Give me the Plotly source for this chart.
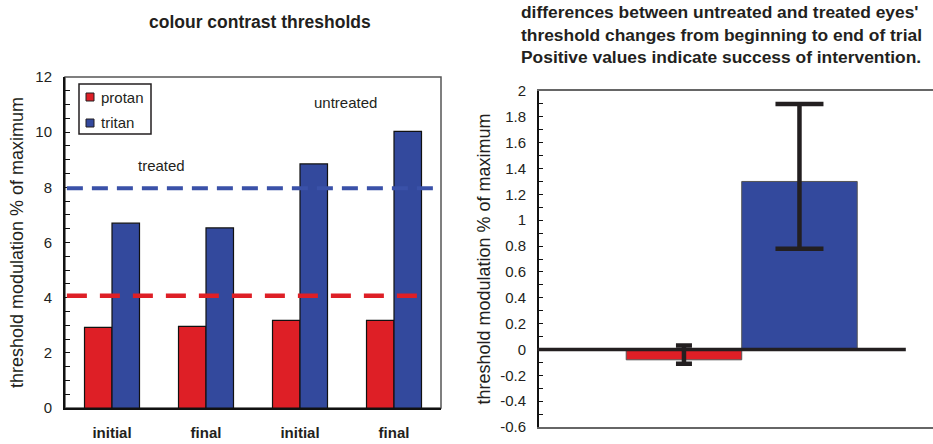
import plotly.graph_objects as go

# ---------------- data ----------------
phase_labels = ["initial", "final", "initial", "final"]
protan_thresholds = [2.92, 2.96, 3.18, 3.18]
tritan_thresholds = [6.70, 6.53, 8.85, 10.03]
series_names = ["protan", "tritan"]
criterion_levels = [4.07, 7.97]          # protan, tritan dashed criteria
group_notes = ["treated", "untreated"]

diff_values = [-0.08, 1.30]             # protan, tritan
diff_err_plus = [0.11, 0.60]
diff_err_minus = [0.03, 0.52]

left_ticks = [0, 2, 4, 6, 8, 10, 12]
right_tickvals = [-0.6, -0.4, -0.2, 0, 0.2, 0.4, 0.6, 0.8, 1, 1.2, 1.4, 1.6, 1.8, 2]
right_ticktext = ["-0.6", "-0.4", "-0.2", "0", "0.2", "0.4", "0.6", "0.8", "1", "1.2",
                  "1.4", "1.6", "1.8", "2"]

# ---------------- style ----------------
W, H = 933, 444
RED = "#DE1F26"
BLUE = "#33499D"
BLUE_DASH = "#3A51A8"
INK = "#231F20"
FONT = "Liberation Sans, Arial, Helvetica, sans-serif"


def px(x):
    return x / W


def py(y):
    return 1 - y / H


fig = go.Figure()

# left chart bars
x_idx = list(range(len(phase_labels)))
for name, vals, col in zip(series_names, [protan_thresholds, tritan_thresholds], [RED, BLUE]):
    fig.add_trace(go.Bar(
        x=x_idx, y=vals, name=name, marker=dict(color=col, line=dict(color="#111", width=1.2)),
        xaxis="x", yaxis="y", showlegend=False,
    ))

# right chart bars
err_widths = [8, 24]
for i, (name, v, ep, em, col) in enumerate(zip(series_names, diff_values, diff_err_plus,
                                               diff_err_minus, [RED, BLUE])):
    fig.add_trace(go.Bar(
        x=[i], y=[v], name=name, offset=-0.5, width=1,
        marker=dict(color=col, line=dict(color="#555", width=1)),
        error_y=dict(type="data", symmetric=False, array=[ep], arrayminus=[em],
                     color=INK, thickness=4.5, width=err_widths[i]),
        xaxis="x2", yaxis="y2", showlegend=False,
    ))

shapes = []
# left frame (top/right in grey)
shapes.append(dict(type="rect", xref="x domain", yref="y domain", x0=0, x1=1, y0=0, y1=1,
                   line=dict(color="#555", width=1.5), layer="below"))
# criterion dashed lines
for lvl, col, x1, dash, w in zip(criterion_levels, [RED, BLUE_DASH], [0.96, 0.984],
                                 ["20px,13px", "16px,9px"], [4.5, 4]):
    shapes.append(dict(type="line", xref="x domain", yref="y", x0=0.005, x1=x1, y0=lvl, y1=lvl,
                       line=dict(color=col, width=w, dash=dash), layer="above"))
# right zero line
shapes.append(dict(type="line", xref="x2 domain", yref="y2", x0=-0.005, x1=0.931, y0=0, y1=0,
                   line=dict(color=INK, width=3.5), layer="above"))

# manual legend
shapes.append(dict(type="rect", xref="paper", yref="paper", x0=px(79), x1=px(151),
                   y0=py(134), y1=py(84), line=dict(color=INK, width=1.5),
                   fillcolor="white", layer="above"))
legend_rows = [97, 123]
annotations = []
for name, col, yc in zip(series_names, [RED, BLUE], legend_rows):
    shapes.append(dict(type="rect", xref="paper", yref="paper", x0=px(86), x1=px(94),
                       y0=py(yc + 4), y1=py(yc - 4), fillcolor=col,
                       line=dict(color=INK, width=1), layer="above"))
    annotations.append(dict(text=name, xref="paper", yref="paper", x=px(99), y=py(yc),
                            xanchor="left", yanchor="middle", showarrow=False,
                            font=dict(size=15, color=INK, family=FONT)))

# notes
for note, (xx, yy) in zip(group_notes, [(161, 166), (345, 103)]):
    annotations.append(dict(text=note, xref="paper", yref="paper", x=px(xx), y=py(yy),
                            xanchor="center", yanchor="middle", showarrow=False,
                            font=dict(size=15, color=INK, family=FONT)))

# titles
annotations.append(dict(text="<b>colour contrast thresholds</b>", xref="paper", yref="paper",
                        x=px(260), y=py(22), xanchor="center", yanchor="middle",
                        showarrow=False, font=dict(size=17.5, color=INK, family=FONT)))
annotations.append(dict(
    text="<b>differences between untreated and treated eyes'<br>"
         "threshold changes from beginning to end of trial<br>"
         "Positive values indicate success of intervention.</b>",
    xref="paper", yref="paper", x=px(519), y=py(35), xanchor="left", yanchor="middle",
    align="left", showarrow=False, font=dict(size=17.4, color=INK, family=FONT)))

ytitle = "threshold modulation % of maximum"

fig.update_layout(
    width=W, height=H, autosize=False,
    margin=dict(l=0, r=0, t=0, b=0),
    paper_bgcolor="white", plot_bgcolor="white",
    barmode="group", bargap=0.415, bargroupgap=0,
    font=dict(family=FONT, color=INK),
    shapes=shapes, annotations=annotations,
    xaxis=dict(domain=[px(65), px(441)], range=[-0.5, 3.5], tickvals=x_idx,
               ticktext=phase_labels, ticks="", showline=True, linecolor="#111", linewidth=2,
               tickfont=dict(size=15, weight="bold", color=INK), ticklabelstandoff=10,
               showgrid=False, zeroline=False, anchor="y", automargin=False, fixedrange=True),
    yaxis=dict(domain=[py(408), py(77)], range=[0, 12], tickvals=left_ticks,
               ticks="inside", ticklen=5, tickwidth=1, tickcolor="#111",
               minor=dict(dtick=0.5, ticks="inside", ticklen=5, tickwidth=1, tickcolor="#111"),
               showline=True, linecolor="#111", linewidth=2, showgrid=False, zeroline=False,
               tickfont=dict(size=15, color=INK), ticklabelstandoff=8,
               title=dict(text=ytitle, font=dict(size=18, color=INK), standoff=7),
               anchor="x", automargin=False, fixedrange=True),
    xaxis2=dict(domain=[px(539), 1.0], range=[-1.255, 2.156], showticklabels=False, ticks="",
                showline=True, mirror=True, linecolor="#666", linewidth=1.5, showgrid=False,
                zeroline=False, anchor="y2", automargin=False, fixedrange=True),
    yaxis2=dict(domain=[py(427), py(91)], range=[-0.6, 2], tickvals=right_tickvals,
                ticktext=right_ticktext, ticks="inside", ticklen=4, tickwidth=1, tickcolor="#111",
                minor=dict(dtick=0.1, ticks="inside", ticklen=4, tickwidth=1, tickcolor="#111"),
                showline=True, linecolor="#111", linewidth=2, showgrid=False, zeroline=False,
                tickfont=dict(size=15, color=INK), ticklabelstandoff=8,
                title=dict(text=ytitle, font=dict(size=18, color=INK), standoff=5),
                anchor="x2", automargin=False, fixedrange=True),
)

fig.write_html("out.html", config={"displayModeBar": False},
               post_script="document.body.style.margin='0';document.body.style.overflow='hidden';")
